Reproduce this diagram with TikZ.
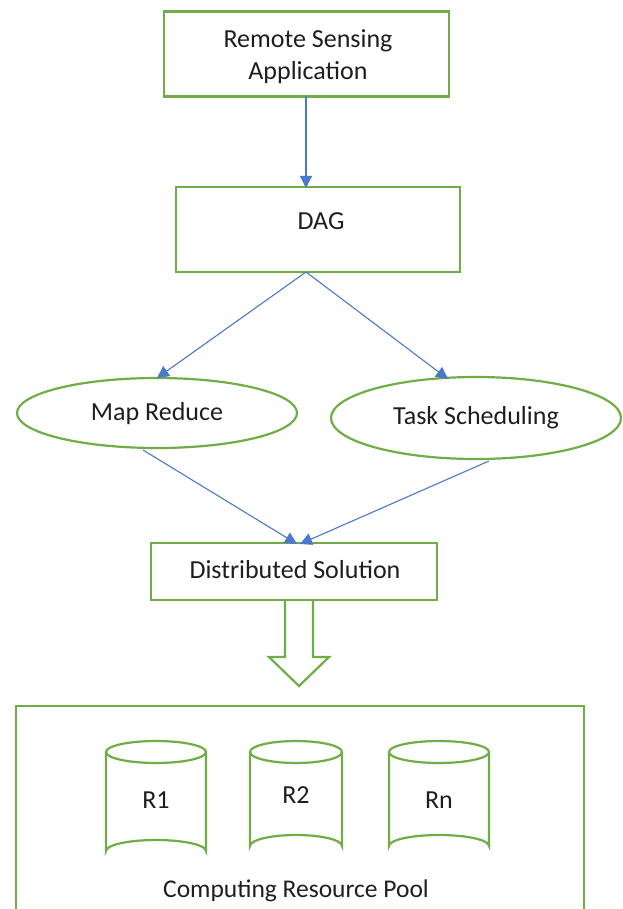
\documentclass[tikz,border=0pt]{standalone}
\usepackage{fontspec}
\setmainfont{Carlito}
\usetikzlibrary{arrows.meta,shapes.geometric}
\definecolor{boxgreen}{HTML}{70AD47}
\definecolor{linkblue}{HTML}{4A78CC}
\definecolor{inktext}{HTML}{1E1E1E}

\begin{document}
\begin{tikzpicture}[x=1pt,y=-1pt,
  txt/.style={text=inktext,font=\fontsize{26}{32}\selectfont},
  box/.style={draw=boxgreen,line width=2.6pt,fill=white,inner sep=0pt,align=center,txt},
  oval/.style={draw=boxgreen,line width=2.2pt,ellipse,inner sep=0pt,txt},
  link/.style={draw=linkblue,line width=1.1pt,-{Triangle[length=12pt,width=12pt]}},
  drum/.style={draw=boxgreen,line width=2.2pt,fill=white}]

\useasboundingbox (0,0) rectangle (622,909);

% processing chain
\node[box,minimum width=285pt,minimum height=85pt] (app) at (306.5,54) {};
\node[txt,align=center] (apptxt) at (308,57) {Remote Sensing\\Application};
\node[box,minimum width=284pt,minimum height=85pt] (dag) at (318,229.5) {};
\node[txt] (dagtxt) at (321,221) {DAG};
\node[oval,minimum width=280pt,minimum height=70pt] (mr) at (157,413) {};
\node[txt] (mrtxt) at (157,414) {Map Reduce};
\node[oval,minimum width=290pt,minimum height=82pt] (ts) at (476,418) {};
\node[txt] (tstxt) at (476,418) {Task Scheduling};
\node[box,minimum width=286pt,minimum height=57pt] (ds) at (294,571.5) {};
\node[txt] (dstxt) at (295,570) {Distributed Solution};

% arrow anchor points
\coordinate (appout) at (306,96);
\coordinate (dagin) at (306,188);
\coordinate (dagout) at (306,272);
\coordinate (mrin) at (157,378);
\coordinate (tsin) at (448,379);
\coordinate (mrout) at (143,450);
\coordinate (tsout) at (489,461);
\coordinate (dsinA) at (297,544);
\coordinate (dsinB) at (300,544);

\draw[link] (appout) -- (dagin);
\draw[link] (dagout) -- (mrin);
\draw[link] (dagout) -- (tsin);
\draw[link] (mrout) -- (dsinA);
\draw[link] (tsout) -- (dsinB);

% hollow block arrow down to the pool
\draw[draw=boxgreen,line width=2.2pt,fill=white,line join=miter]
  (285,601) -- (285,657) -- (269,657) -- (299,686) -- (329,657) -- (313,657) -- (313,601);

% resource pool frame (open at the bottom)
\draw[draw=boxgreen,line width=2.6pt] (16,915) -- (16,706) -- (584,706) -- (584,915);

% resource drums
\foreach \cx/\hw/\yb in {156/50/862, 296/46/857, 439/50/857}{
  \draw[drum] (\cx-\hw,752) -- (\cx-\hw,\yb-11)
     arc[start angle=180,end angle=360,x radius=\hw,y radius=11]
     -- (\cx+\hw,752);
  \draw[drum] (\cx,752) ellipse[x radius=\hw,y radius=11];
}
\node[txt] (r1) at (156,800) {R1};
\node[txt] (r2) at (296,795) {R2};
\node[txt] (rn) at (439,800) {Rn};
\node[txt,font=\fontsize{25.5}{31}\selectfont] (pool) at (296,891) {Computing Resource Pool};

\end{tikzpicture}
\end{document}
